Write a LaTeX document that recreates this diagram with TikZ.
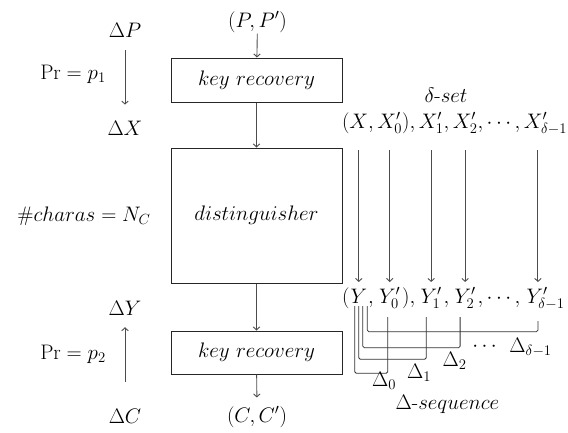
\RequirePackage{fix-cm}
\documentclass[tikz,border=0pt]{standalone}
\usetikzlibrary{arrows.meta,calc}
\newcommand{\matchw}[2]{\setbox0\hbox{#1}\makebox[\wd0]{#2}}
\begin{document}
\begin{tikzpicture}[x=1pt,y=-1pt,font=\fontsize{21}{25}\selectfont,
  lbl/.style={inner sep=0pt,outer sep=0pt},
  piece/.style={inner sep=0pt,outer sep=0pt,anchor=base west},
  box/.style={draw=black!85,line width=1pt,minimum width=171pt,inner sep=0pt},
  arr/.style={draw=black!70,line width=0.9pt,-{Straight Barb[length=3pt,width=6.5pt]}},
  brk/.style={draw=black!80,line width=0.8pt,rounded corners=1.5pt}]
\useasboundingbox (0,0) rectangle (568,432);

% central column
\node[lbl] (PP) at (257.5,22) {$(P,P')$};
\node[box,minimum height=44pt] (kr1) at (256.5,80) {$key\ recovery$};
\node[box,minimum height=135pt] (dist) at (256.5,215.5) {$distinguisher$};
\node[box,minimum height=43pt] (kr2) at (256.5,352.5) {$key\ recovery$};
\node[lbl] (CC) at (257,417) {$(C,C')$};
\draw[arr,shorten <=1pt] (PP) -- (kr1);
\draw[arr] (kr1) -- (dist);
\draw[arr] (dist) -- (kr2);
\draw[arr,shorten >=9pt] (kr2) -- (CC);

% left column
\node[lbl] (dP) at (125,30.3) {$\Delta P$};
\node[lbl] (dX) at (125,128.3) {$\Delta X$};
\node[lbl] (dY) at (125,308) {$\Delta Y$};
\node[lbl] (dC) at (125,416.7) {$\Delta C$};
\draw[arr,shorten <=13pt,shorten >=16.5pt] (dP) -- (dX);
\draw[arr,shorten <=28pt,shorten >=12pt] (dC) -- (dY);
\node[lbl,anchor=base] (pr1) at (73,79) {$\mathrm{Pr}=p_1$};
\node[lbl,anchor=base] (pr2) at (73,359) {$\mathrm{Pr}=p_2$};
\node[lbl,anchor=base] (nc) at (84,221.7) {$\#charas=N_C$};

% delta-set row
\node[lbl,anchor=base] (dset) at (446,102) {$\delta$-$set$};
\node[piece] (x0) at (342,128.3) {$($};
\node[piece] (xa) at (x0.base east) {$X$};
\node[piece] (x1) at (xa.base east) {$,\,$};
\node[piece] (xb) at (x1.base east) {$X'_0$};
\node[piece] (x2) at (xb.base east) {$),\,$};
\node[piece] (xc) at (x2.base east) {$X'_1$};
\node[piece] (x3) at (xc.base east) {$,\,$};
\node[piece] (xd) at (x3.base east) {$X'_2$};
\node[piece] (x4) at (xd.base east) {$,\cdots,\,$};
\node[piece] (xe) at (x4.base east) {$X'_{\delta-1}$};

% output row
\node[piece] (y0) at (342,303) {$($};
\node[piece] (ya) at (y0.base east) {\matchw{$X$}{$Y$}};
\node[piece] (y1) at (ya.base east) {$,\,$};
\node[piece] (yb) at (y1.base east) {\matchw{$X'_0$}{$Y'_0$}};
\node[piece] (y2) at (yb.base east) {$),\,$};
\node[piece] (yc) at (y2.base east) {\matchw{$X'_1$}{$Y'_1$}};
\node[piece] (y3) at (yc.base east) {$,\,$};
\node[piece] (yd) at (y3.base east) {\matchw{$X'_2$}{$Y'_2$}};
\node[piece] (y4) at (yd.base east) {$,\cdots,\,$};
\node[piece] (ye) at (y4.base east) {\matchw{$X'_{\delta-1}$}{$Y'_{\delta-1}$}};

\coordinate (atop) at (0,150);
\coordinate (abot) at (0,282);
\coordinate (xeX) at ([xshift=14pt]xe.south west);
\coordinate (yeX) at ([xshift=14pt]ye.north west);
\foreach \a/\b in {xa.south/ya.north,xb.south/yb.north,xc.south/yc.north,xd.south/yd.north,xeX/yeX}
  \draw[arr] (\a |- atop) -- (\b |- abot);

% brackets
\coordinate (ltop) at (0,306);
\coordinate (rtop) at (0,317);
\coordinate (rtope) at (0,321);
\coordinate (lv0) at (0,373.3);
\coordinate (lv1) at (0,359.3);
\coordinate (lv2) at (0,347.7);
\coordinate (lv3) at (0,331.7);
\coordinate (la) at ([xshift=-4pt]ya.south);
\coordinate (lb) at ([xshift=0pt]ya.south);
\coordinate (lc) at ([xshift=4pt]ya.south);
\coordinate (ld) at ([xshift=8.5pt]ya.south);
\coordinate (ra) at ([xshift=-2pt]yb.south);
\coordinate (rb) at ([xshift=-5pt]yc.south);
\coordinate (rc) at ([xshift=-5pt]yd.south);
\coordinate (rd) at ([xshift=14pt]ye.south west);
\draw[brk] (la |- ltop) -- (la |- lv0) -- (ra |- lv0) -- (ra |- rtop);
\draw[brk] (lb |- ltop) -- (lb |- lv1) -- (rb |- lv1) -- (rb |- rtop);
\draw[brk] (lc |- ltop) -- (lc |- lv2) -- (rc |- lv2) -- (rc |- rtop);
\draw[brk] (ld |- ltop) -- (ld |- lv3) -- (rd |- lv3) -- (rd |- rtope);

\node[lbl,anchor=base] (D0) at (384,386.7) {$\Delta_0$};
\node[lbl,anchor=base] (D1) at (419,378) {$\Delta_1$};
\node[lbl,anchor=base] (D2) at (454.5,366) {$\Delta_2$};
\node[lbl,anchor=base] (Ddots) at (484.5,351.7) {$\cdots$};
\node[lbl,anchor=base] (Dl) at (530.5,352.7) {$\Delta_{\delta-1}$};
\node[lbl,anchor=base] (dseq) at (447.5,409) {$\Delta$-$sequence$};
\end{tikzpicture}
\end{document}
